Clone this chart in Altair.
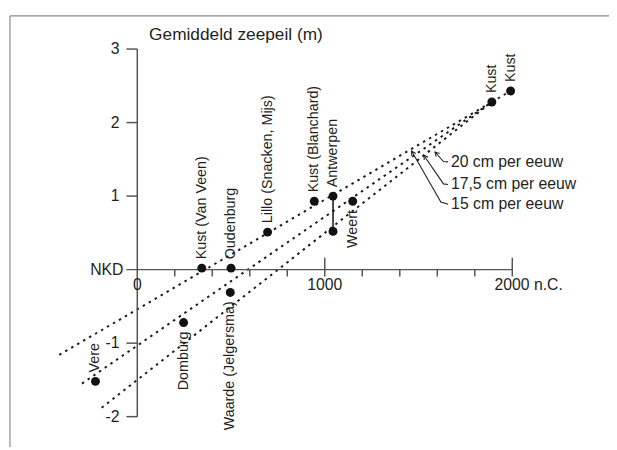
import altair as alt
import pandas as pd

FONT = "Liberation Sans"
INK = "#231f20"
AXIS = "#555555"

# ---- measured sites (year, mean sea level in m) ----
site_labels = ["Vere", "Domburg", "Waarde (Jelgersma)", "Kust (Van Veen)", "Oudenburg",
               "Lillo (Snacken, Mijs)", "Kust (Blanchard)", "Antwerpen", "Weert", "Kust", "Kust"]
site_years = [-223, 247, 496, 344, 500, 695, 944, 1044, 1149, 1891, 1991]
site_levels = [-1.52, -0.72, -0.31, 0.02, 0.02, 0.51, 0.93, 1.00, 0.93, 2.28, 2.43]
site_side = ["up", "down", "down", "up", "up", "up", "up", "up", "down", "up", "up"]

# extra (unlabelled) point: lower Antwerpen estimate
extra_years = [1044]
extra_levels = [0.52]

# Antwerpen range bar
range_year = [1044]
range_low = [0.52]
range_high = [1.00]

# ---- trend lines (dotted) ----
trend_names = ["15 cm per eeuw", "17,5 cm per eeuw", "20 cm per eeuw"]
trend_start_years = [-416, -295, -190]
trend_start_levels = [-1.16, -1.55, -1.88]
trend_end_years = [1891, 1891, 1891]
trend_end_levels = [2.28, 2.28, 2.28]
link_years = [1891, 1991]
link_levels = [2.28, 2.43]

# ---- arrows to trend labels ----
arrow_tip_years = [1463, 1528, 1588]
arrow_tip_levels = [1.613, 1.556, 1.600]
arrow_corner_years = [1619, 1633, 1633]
arrow_corner_levels = [0.919, 1.166, 1.470]
arrow_end_years = [1658, 1657, 1657]
arrow_end_levels = [0.889, 1.157, 1.466]
arrow_angles = [330, 325, 318]

# ---- axes ----
y_tick_values = [3, 2, 1, -1, -2]
y_tick_labels = ["3", "2", "1", "-1", "-2"]
x_major_ticks = [1000, 2000]
x_minor_ticks = [200, 400, 600, 800, 1200, 1400, 1600, 1800]
x_tick_values = [0, 1000]
x_tick_labels = ["0", "1000"]
x_last_value = [2000]
x_last_label = ["2000 n.C."]
title_text = "Gemiddeld zeepeil (m)"

xs = alt.Scale(domain=[-689.5, 2515.8], nice=False, zero=False)
ys = alt.Scale(domain=[-2.414, 3.519], nice=False, zero=False)


def X(f="x"):
    return alt.X(f"{f}:Q", scale=xs, axis=None)


def Y(f="y"):
    return alt.Y(f"{f}:Q", scale=ys, axis=None)


sites = pd.DataFrame({"x": site_years, "y": site_levels, "label": site_labels, "side": site_side})
points = pd.DataFrame({"x": site_years + extra_years, "y": site_levels + extra_levels})

trend_rows = []
for n, xs0, ys0, xs1, ys1 in zip(trend_names, trend_start_years, trend_start_levels,
                                 trend_end_years, trend_end_levels):
    trend_rows.append({"name": n, "x": xs0, "y": ys0})
    trend_rows.append({"name": n, "x": xs1, "y": ys1})
for xx, yy in zip(link_years, link_levels):
    trend_rows.append({"name": "link", "x": xx, "y": yy})
trends = pd.DataFrame(trend_rows)

arrow_rows = []
for i, n in enumerate(trend_names):
    arrow_rows += [
        {"name": n, "o": 0, "x": arrow_tip_years[i], "y": arrow_tip_levels[i]},
        {"name": n, "o": 1, "x": arrow_corner_years[i], "y": arrow_corner_levels[i]},
        {"name": n, "o": 2, "x": arrow_end_years[i], "y": arrow_end_levels[i]},
    ]
arrows = pd.DataFrame(arrow_rows)
heads = pd.DataFrame({"x": arrow_tip_years, "y": arrow_tip_levels, "a": arrow_angles})
arrow_labels = pd.DataFrame({"x": arrow_end_years, "y": arrow_end_levels, "t": trend_names})

# frame
frame_top = alt.Chart(pd.DataFrame({"k": [0]})).mark_rule(color="#8c8c84", strokeWidth=1.2).encode(
    x=alt.value(2), x2=alt.value(609), y=alt.value(5))
frame_left = alt.Chart(pd.DataFrame({"k": [0]})).mark_rule(color="#8c8c84", strokeWidth=1.2).encode(
    x=alt.value(2), y=alt.value(5), y2=alt.value(442))

# axes
y_axis = alt.Chart(pd.DataFrame({"x": [0], "y": [-2], "y2": [3]})).mark_rule(
    color=AXIS, strokeWidth=1.5).encode(x=X(), y=Y(), y2="y2:Q")
y_ticks = alt.Chart(pd.DataFrame({"x": [0] * 5, "y": y_tick_values})).mark_rule(
    color=AXIS, strokeWidth=1.5, x2Offset=-11).encode(x=X(), x2="x:Q", y=Y())
y_labels = alt.Chart(pd.DataFrame({"x": [0] * 5, "y": y_tick_values, "t": y_tick_labels})).mark_text(
    align="right", baseline="middle", dx=-18, font=FONT, fontSize=16, color=INK).encode(
    x=X(), y=Y(), text="t:N")
nkd = alt.Chart(pd.DataFrame({"x": [0], "y": [0], "t": ["NKD"]})).mark_text(
    align="right", baseline="middle", dx=-14, font=FONT, fontSize=16, color=INK).encode(
    x=X(), y=Y(), text="t:N")
x_axis = alt.Chart(pd.DataFrame({"x": [0], "x2": [2000], "y": [0]})).mark_rule(
    color=AXIS, strokeWidth=1.5, xOffset=-11).encode(x=X(), x2="x2:Q", y=Y())
x_major = alt.Chart(pd.DataFrame({"x": x_major_ticks, "y": [0] * 2})).mark_rule(
    color=AXIS, strokeWidth=1.5, yOffset=-12, y2Offset=7).encode(x=X(), y=Y(), y2="y:Q")
x_minor = alt.Chart(pd.DataFrame({"x": x_minor_ticks, "y": [0] * 8})).mark_rule(
    color=AXIS, strokeWidth=1.5, y2Offset=7).encode(x=X(), y=Y(), y2="y:Q")
x_labels = alt.Chart(pd.DataFrame({"x": x_tick_values, "y": [0] * 2, "t": x_tick_labels})).mark_text(
    align="center", baseline="middle", dy=16, font=FONT, fontSize=16, color=INK).encode(
    x=X(), y=Y(), text="t:N")
x_last = alt.Chart(pd.DataFrame({"x": x_last_value, "y": [0], "t": x_last_label})).mark_text(
    align="left", baseline="middle", dy=16, dx=-18, font=FONT, fontSize=16, color=INK).encode(
    x=X(), y=Y(), text="t:N")
title = alt.Chart(pd.DataFrame({"t": [title_text]})).mark_text(
    align="left", baseline="alphabetic", font=FONT, fontSize=17.5, color=INK).encode(
    x=alt.value(143), y=alt.value(29), text="t:N")

# trend lines
trend_lines = alt.Chart(trends).mark_line(
    color="#1a1a1a", strokeWidth=2, strokeDash=[2.5, 4.5]).encode(
    x=X(), y=Y(), detail="name:N", order="x:Q")

# Antwerpen bar
bar = alt.Chart(pd.DataFrame({"x": range_year, "y": range_low, "y2": range_high})).mark_rule(
    color="#111111", strokeWidth=1.5).encode(x=X(), y=Y(), y2="y2:Q")

pts = alt.Chart(points).mark_circle(size=82, color="#111111", opacity=1).encode(x=X(), y=Y())

lab_up = alt.Chart(sites[sites.side == "up"]).mark_text(
    angle=270, align="left", baseline="middle", dx=9, font=FONT, fontSize=14.5, color=INK).encode(
    x=X(), y=Y(), text="label:N")
lab_down = alt.Chart(sites[sites.side == "down"]).mark_text(
    angle=270, align="right", baseline="middle", dx=-9, font=FONT, fontSize=14.5, color=INK).encode(
    x=X(), y=Y(), text="label:N")

# arrows
arrow_lines = alt.Chart(arrows).mark_line(color="#222222", strokeWidth=1.1).encode(
    x=X(), y=Y(), detail="name:N", order="o:Q")
arrow_heads = alt.Chart(heads).mark_point(
    shape="M-0.5,0.9L0,0L0.5,0.9", filled=False, color="#222222", strokeWidth=1.1, size=90,
    opacity=1).encode(x=X(), y=Y(), angle=alt.Angle("a:Q", scale=None))
arrow_text = alt.Chart(arrow_labels).mark_text(
    align="left", baseline="middle", dx=3, font=FONT, fontSize=16, color=INK).encode(
    x=X(), y=Y(), text="t:N")

chart = alt.layer(
    frame_top, frame_left,
    trend_lines, arrow_lines, arrow_heads,
    y_axis, y_ticks, x_axis, x_major, x_minor,
    y_labels, nkd, x_labels, x_last, title,
    bar, pts, lab_up, lab_down, arrow_text,
).properties(
    width=609, height=442, padding=0, autosize=alt.AutoSizeParams(type="none"),
    background="white",
).configure_view(stroke=None)

chart.save("out.html", embed_options={"renderer": "svg", "actions": False})
